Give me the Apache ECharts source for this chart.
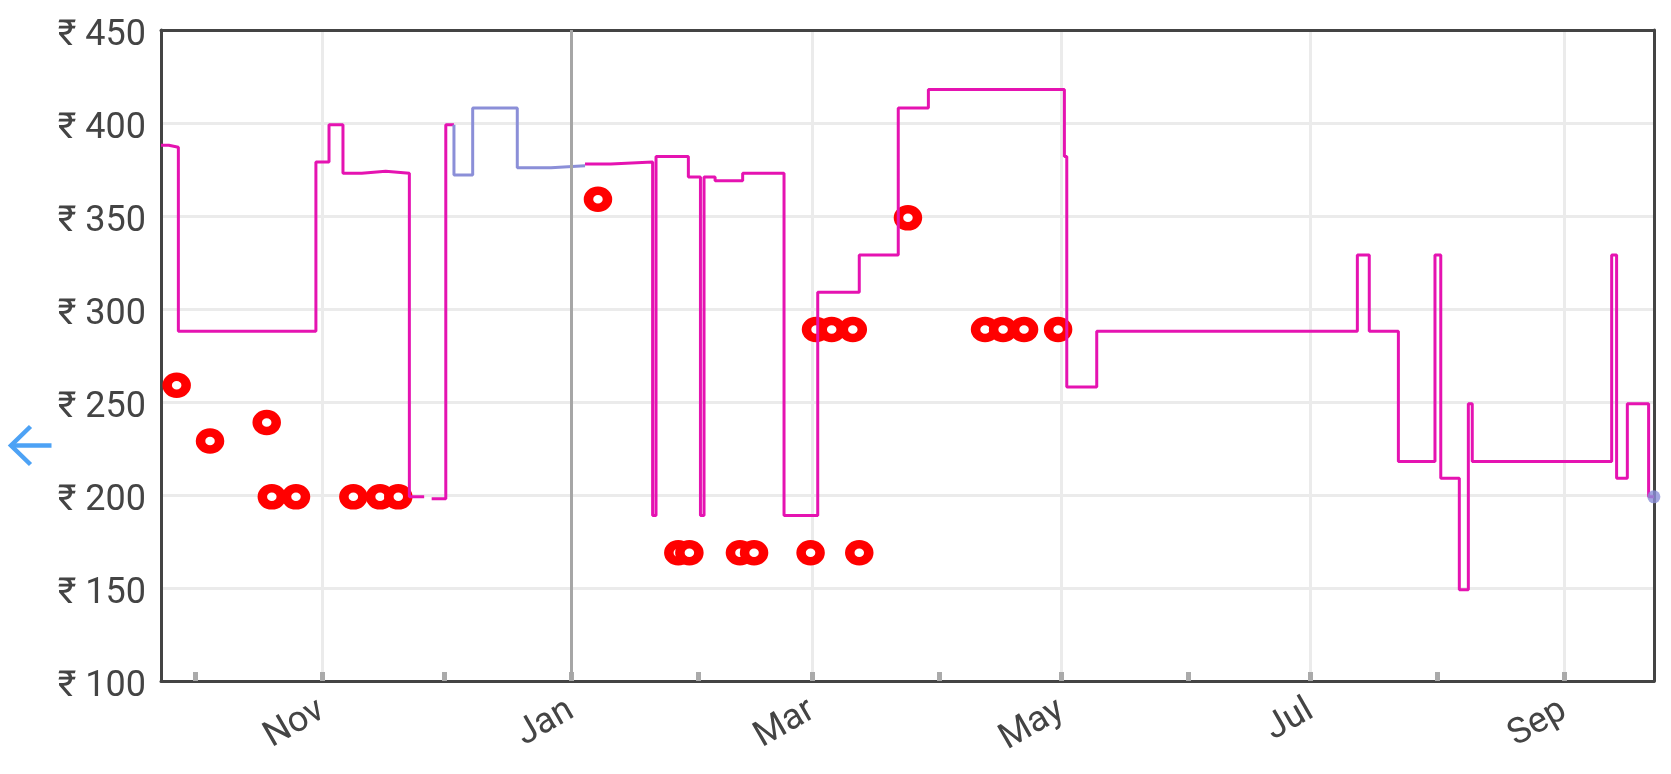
<!DOCTYPE html>
<html>
<head>
<meta charset="utf-8">
<script src="https://cdn.jsdelivr.net/npm/echarts@6/dist/echarts.min.js"></script>
<style>
  html, body { margin: 0; padding: 0; background: #ffffff; }
  #chart { width: 1671px; height: 774px; }
</style>
</head>
<body>
<div id="chart"></div>
<script>
// ---------------- data ----------------
// Main price history (step line, magenta); null = gap in history
const priceDates = [
  '2024-09-22 14:00', '2024-09-24 12:00', '2024-09-26 20:00', '2024-10-30 12:00', '2024-11-02 17:00',
  '2024-11-06 03:00', '2024-11-10 17:00', '2024-11-16 14:00', '2024-11-22 09:00', '2024-11-26 00:00',
  '2024-11-26 00:00', '2024-11-27 20:00', '2024-12-01 07:00', '2024-12-03 07:00', '2024-12-03 07:00',
  '2025-01-04 09:00', '2025-01-10 16:00', '2025-01-20 22:00', '2025-01-21 18:00', '2025-01-29 16:00',
  '2025-02-01 15:00', '2025-02-02 12:00', '2025-02-05 05:00', '2025-02-11 23:00', '2025-02-22 02:00',
  '2025-03-02 08:00', '2025-03-12 12:00', '2025-03-22 01:00', '2025-03-29 10:00', '2025-05-01 17:00',
  '2025-05-02 07:00', '2025-05-09 15:00', '2025-07-12 10:00', '2025-07-15 08:00', '2025-07-22 11:00',
  '2025-07-31 10:00', '2025-08-01 20:00', '2025-08-06 09:00', '2025-08-08 14:00', '2025-08-09 13:00',
  '2025-09-12 16:00', '2025-09-13 21:00', '2025-09-16 12:00', '2025-09-21 17:00', '2025-09-23 00:40'
];
const priceValues = [
  388, 387, 288, 379, 399,
  373, 374, 373, 199, 199,
  null, 198, 399, 399, null,
  378, 379, 189, 382, 371,
  189, 371, 369, 373, 189,
  309, 329, 408, 418, 382,
  258, 288, 329, 288, 218,
  329, 209, 149, 249, 218,
  329, 209, 249, 199, 199
];

// Secondary history segment (step line, lavender)
const altDates  = ['2024-12-03 07:00', '2024-12-03 07:00', '2024-12-07 21:00', '2024-12-18 19:00', '2024-12-27 01:00', '2025-01-04 09:00'];
const altValues = [399, 372, 408, 376, 377, 377];

// Current price marker (lavender dot)
const currentDates  = ['2025-09-23 00:00'];
const currentValues = [199];

// Deal points (red rings)
const dealDates = [
  '2024-09-26 10:00', '2024-10-04 14:00', '2024-10-18 11:00', '2024-10-19 17:00', '2024-10-25 15:00',
  '2024-11-08 16:00', '2024-11-15 05:00', '2024-11-19 16:00', '2025-01-07 13:00', '2025-01-27 05:00',
  '2025-01-29 22:00', '2025-02-11 07:00', '2025-02-14 18:00', '2025-02-28 14:00', '2025-03-12 12:00',
  '2025-03-01 22:00', '2025-03-05 18:00', '2025-03-10 22:00', '2025-03-24 10:00', '2025-04-12 07:00',
  '2025-04-16 17:00', '2025-04-21 20:00', '2025-04-30 04:00'
];
const dealValues = [
  259, 229, 239, 199, 199,
  199, 199, 199, 359, 169,
  169, 169, 169, 169, 169,
  289, 289, 289, 349, 289,
  289, 289, 289
];

// Axis settings
const xMinDate = '2024-09-22 14:00';
const xMaxDate = '2025-09-23 00:40';
const monthTickDates = ['2024-10-01', '2024-11-01', '2024-12-01', '2025-01-01', '2025-02-01', '2025-03-01',
                        '2025-04-01', '2025-05-01', '2025-06-01', '2025-07-01', '2025-08-01', '2025-09-01'];
const labelDates  = ['2024-11-01', '2025-01-01', '2025-03-01', '2025-05-01', '2025-07-01', '2025-09-01'];
const labelTexts  = ['Nov', 'Jan', 'Mar', 'May', 'Jul', 'Sep'];
const yearBoundary = '2025-01-01';
const yMin = 100, yMax = 450, yStep = 50;
const currencyPrefix = '₹ ';

// ---------------- helpers ----------------
function ts(s) {
  const m = s.match(/^(\d{4})-(\d{2})-(\d{2})(?:\s+(\d{2}):(\d{2}))?$/);
  return Date.UTC(+m[1], +m[2] - 1, +m[3], m[4] ? +m[4] : 0, m[5] ? +m[5] : 0);
}
function pairs(dates, values) {
  return dates.map((d, i) => [ts(d), values[i] === null ? '-' : values[i]]);
}

const MAGENTA = '#e513b1';
const LAVENDER = '#8b8fd8';
const RED = '#ff0000';
const TEXT = '#444444';
const GRID = '#ebebeb';
const FRAME = '#444444';

const labelTs = labelDates.map(ts);
const xMin = ts(xMinDate), xMax = ts(xMaxDate);
const frameLine = { show: true, onZero: false, lineStyle: { color: FRAME, width: 3 } };

const chart = echarts.init(document.getElementById('chart'), null, { renderer: 'canvas' });
chart.setOption({
  animation: false,
  backgroundColor: '#ffffff',
  grid: { left: 161, right: 17, top: 30, bottom: 93, show: false },
  xAxis: [
    {
      type: 'value', min: xMin, max: xMax, position: 'bottom', scale: true,
      axisLine: { show: false },
      axisTick: { show: true, inside: true, length: 9, customValues: monthTickDates.map(ts),
                  lineStyle: { color: '#aaaaaa', width: 5 } },
      axisLabel: { show: false },
      splitLine: { show: false }
    },
    {
      type: 'value', min: xMin, max: xMax, position: 'bottom', scale: true,
      axisLine: frameLine,
      axisTick: { show: false, customValues: labelTs },
      axisLabel: {
        show: true, customValues: labelTs, rotate: 30, margin: 27,
        color: TEXT, fontSize: 36, fontFamily: 'Roboto',
        formatter: function (v) {
          let best = 0, bd = Infinity;
          labelTs.forEach((t, i) => { const d = Math.abs(t - v); if (d < bd) { bd = d; best = i; } });
          return labelTexts[best];
        }
      },
      splitLine: { show: true, lineStyle: { color: GRID, width: 3 } }
    },
    {
      type: 'value', min: xMin, max: xMax, position: 'top', scale: true,
      axisLine: frameLine, axisTick: { show: false }, axisLabel: { show: false }, splitLine: { show: false }
    }
  ],
  yAxis: [
    {
      type: 'value', min: yMin, max: yMax, interval: yStep, position: 'left',
      axisLine: frameLine, axisTick: { show: false },
      axisLabel: { color: TEXT, fontSize: 36, fontFamily: 'Roboto', margin: 15,
                   verticalAlign: 'top', lineHeight: 12,
                   formatter: v => currencyPrefix + v },
      splitLine: { show: true, lineStyle: { color: GRID, width: 3 } }
    },
    {
      type: 'value', min: yMin, max: yMax, interval: yStep, position: 'right',
      axisLine: frameLine, axisTick: { show: false }, axisLabel: { show: false }, splitLine: { show: false }
    }
  ],
  series: [
    {
      name: 'deals', type: 'scatter', xAxisIndex: 0, yAxisIndex: 0, z: 1,
      data: pairs(dealDates, dealValues),
      symbol: 'circle', symbolSize: [19, 17],
      itemStyle: { color: '#ffffff', borderColor: RED, borderWidth: 9, opacity: 1 }
    },
    {
      name: 'price', type: 'line', xAxisIndex: 0, yAxisIndex: 0, z: 3, step: 'end',
      data: pairs(priceDates, priceValues),
      showSymbol: false, symbol: 'none', connectNulls: false,
      lineStyle: { color: MAGENTA, width: 3 },
      markLine: {
        silent: true, symbol: ['none', 'none'], label: { show: false },
        lineStyle: { color: '#a6a6a6', width: 3, type: 'solid' },
        data: [{ xAxis: ts(yearBoundary) }]
      }
    },
    {
      name: 'alt', type: 'line', xAxisIndex: 0, yAxisIndex: 0, z: 4, step: 'end',
      data: pairs(altDates, altValues),
      showSymbol: false, symbol: 'none',
      lineStyle: { color: LAVENDER, width: 3 }
    },
    {
      name: 'current', type: 'scatter', xAxisIndex: 0, yAxisIndex: 0, z: 5,
      data: pairs(currentDates, currentValues),
      symbol: 'circle', symbolSize: 13,
      itemStyle: { color: LAVENDER }
    }
  ],
  graphic: [
    {
      type: 'group', left: 8, top: 424,
      children: [
        { type: 'polyline', shape: { points: [[3, 20], [44, 20]] },
          style: { stroke: '#4da2f5', lineWidth: 4.5, fill: null } },
        { type: 'polyline', shape: { points: [[23, 1], [3.5, 20], [23, 39]] },
          style: { stroke: '#4da2f5', lineWidth: 4.5, fill: null, lineJoin: 'miter' } }
      ]
    }
  ]
});
</script>
</body>
</html>
